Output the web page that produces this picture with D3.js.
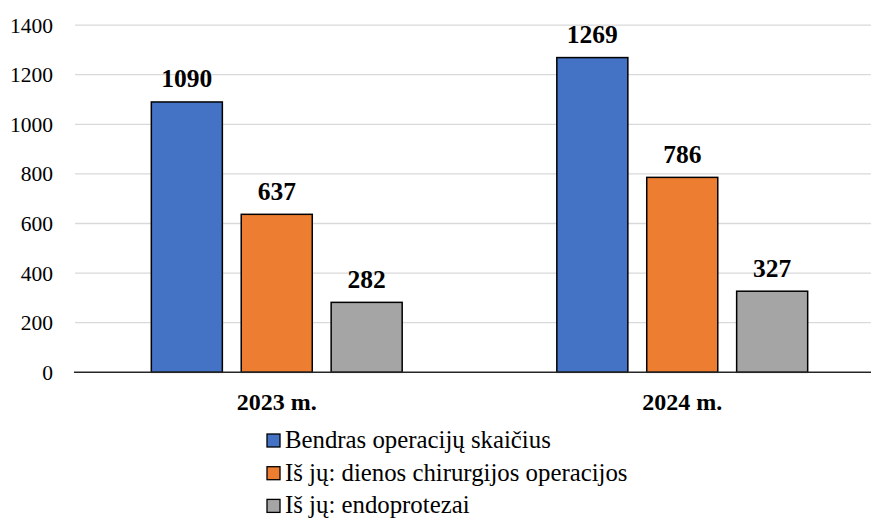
<!DOCTYPE html>
<html>
<head>
<meta charset="utf-8">
<script src="https://cdn.jsdelivr.net/npm/d3@7"></script>
<style>
  body { margin: 0; background: #fff; }
</style>
</head>
<body>
<div id="chart"></div>
<script>
var years = ["2023 m.", "2024 m."];
var series = ["Bendras operacijų skaičius", "Iš jų: dienos chirurgijos operacijos", "Iš jų: endoprotezai"];
var values = [
  [1090, 637, 282],
  [1269, 786, 327]
];
var yTicks = [0, 200, 400, 600, 800, 1000, 1200, 1400];
var colors = ["#4472c4", "#ed7d31", "#a5a5a5"];
var font = "Liberation Serif";

var width = 871, height = 520;
var svg = d3.select("#chart").append("svg")
  .attr("width", width)
  .attr("height", height);

var x0 = d3.scaleBand().domain(years).range([74, 885]).padding(0);
var x1 = d3.scaleBand().domain(d3.range(series.length))
  .range([0, x0.bandwidth()])
  .paddingInner(0.21)
  .paddingOuter(0.86);
var y = d3.scaleLinear().domain([0, 1400]).range([372.3, 25.1]);

// gridlines
svg.append("g").selectAll("line")
  .data(yTicks.slice(1))
  .enter().append("line")
  .attr("x1", 75).attr("x2", 886)
  .attr("y1", function(d) { return y(d); })
  .attr("y2", function(d) { return y(d); })
  .attr("stroke", "#d9d9d9")
  .attr("stroke-width", 1.3);

// y tick labels
svg.append("g").selectAll("text")
  .data(yTicks)
  .enter().append("text")
  .attr("x", 53)
  .attr("y", function(d) { return y(d); })
  .attr("dy", "0.35em")
  .attr("text-anchor", "end")
  .style("font-family", font)
  .style("font-size", "21.5px")
  .text(function(d) { return d; });

// bars
var groups = svg.append("g").selectAll("g")
  .data(values)
  .enter().append("g")
  .attr("transform", function(d, i) { return "translate(" + x0(years[i]) + ",0)"; });

groups.selectAll("rect")
  .data(function(d) { return d; })
  .enter().append("rect")
  .attr("x", function(d, i) { return x1(i); })
  .attr("width", x1.bandwidth())
  .attr("y", function(d) { return y(d); })
  .attr("height", function(d) { return y(0) - y(d); })
  .attr("fill", function(d, i) { return colors[i]; })
  .attr("stroke", "#000")
  .attr("stroke-width", 1.5);

groups.selectAll("text")
  .data(function(d) { return d; })
  .enter().append("text")
  .attr("x", function(d, i) { return x1(i) + x1.bandwidth() / 2; })
  .attr("y", function(d) { return y(d) - 14.5; })
  .attr("text-anchor", "middle")
  .style("font-family", font)
  .style("font-size", "25.5px")
  .style("font-weight", "bold")
  .text(function(d) { return d; });

// zero axis line
svg.append("line")
  .attr("x1", 74).attr("x2", 886)
  .attr("y1", y(0)).attr("y2", y(0))
  .attr("stroke", "#262626")
  .attr("stroke-width", 1.5);

// category labels
svg.append("g").selectAll("text")
  .data(years)
  .enter().append("text")
  .attr("x", function(d) { return x0(d) + x0.bandwidth() / 2; })
  .attr("y", 410)
  .attr("text-anchor", "middle")
  .style("font-family", font)
  .style("font-size", "24px")
  .style("font-weight", "bold")
  .text(function(d) { return d; });

// legend
var legend = svg.append("g").selectAll("g")
  .data(series)
  .enter().append("g")
  .attr("transform", function(d, i) { return "translate(267," + (448 + i * 32.7) + ")"; });

legend.append("rect")
  .attr("y", -14)
  .attr("width", 13).attr("height", 13)
  .attr("fill", function(d, i) { return colors[i]; })
  .attr("stroke", "#000")
  .attr("stroke-width", 1.3);

legend.append("text")
  .attr("x", 18)
  .attr("y", 0)
  .style("font-family", font)
  .style("font-size", "24.8px")
  .text(function(d) { return d; });
</script>
</body>
</html>
